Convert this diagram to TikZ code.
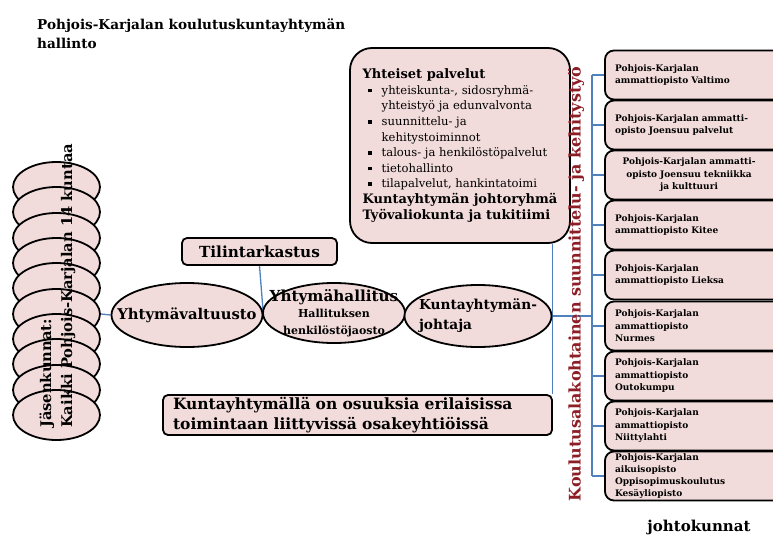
\documentclass[tikz,border=0pt]{standalone}
\usepackage{fontspec}
\setmainfont{DejaVu Serif}
\usetikzlibrary{shapes.geometric, backgrounds}
\definecolor{vaaleanpun}{RGB}{242,220,219}
\definecolor{viiva}{RGB}{79,129,189}
\definecolor{viininpun}{RGB}{142,30,38}
\newcommand{\koko}[2]{\fontsize{#1}{#2}\selectfont}
\newcommand{\pallo}{\hspace*{5pt}\makebox[14pt][l]{\rule[2pt]{3.8pt}{3.8pt}}}
\newcommand{\sisennys}{\hspace*{19pt}}
\newcommand{\keski}[1]{\makebox[148pt][c]{#1}}

\begin{document}
\begin{tikzpicture}[x=1pt, y=-1pt,
  kunta/.style={ellipse, draw, line width=1.8pt, fill=vaaleanpun, minimum width=87pt, minimum height=50pt},
  soikio/.style={ellipse, draw, line width=1.8pt, fill=vaaleanpun, inner xsep=-30pt, inner ysep=-12pt, font=\bfseries},
  laatikko/.style={rectangle, rounded corners=5pt, draw, line width=1.8pt, fill=vaaleanpun, font=\bfseries},
  opisto/.style={laatikko, rounded corners=9pt, text width=175pt, inner xsep=10pt, inner ysep=0pt, minimum height=49pt, align=left, font=\bfseries\koko{9}{12.5}},
  yhteys/.style={draw=viiva, line width=1.3pt}]
  \useasboundingbox (0,0) rectangle (773,543);

  % otsikko
  \node [anchor=north west, inner sep=0pt, align=left, font=\bfseries\koko{13.6}{19}] (otsikko) at (37,19) {Pohjois-Karjalan koulutuskuntayhtymän\\hallinto};

  % jasenkunnat
  \node [kunta] (kunta1) at (56.5,187) {};
  \node [kunta] (kunta2) at (56.5,212) {};
  \node [kunta] (kunta3) at (56.5,238) {};
  \node [kunta] (kunta4) at (56.5,263) {};
  \node [kunta] (kunta5) at (56.5,288) {};
  \node [kunta] (kunta6) at (56.5,314) {};
  \node [kunta] (kunta7) at (56.5,339) {};
  \node [kunta] (kunta8) at (56.5,364) {};
  \node [kunta] (kunta9) at (56.5,390) {};
  \node [kunta] (kunta10) at (56.5,415) {};
  \node [rotate=90, anchor=west, inner sep=0pt, align=left, font=\bfseries\koko{14.7}{21}] (jasenet) at (57.5,428) {J\"asenkunnat:\\Kaikki Pohjois-Karjalan 14 kuntaa};

  % hallinto
  \node [soikio, minimum width=151pt, minimum height=64pt, font=\bfseries\koko{14.8}{17}] (valt) at (187,315) {Yhtym\"avaltuusto};
  \node [soikio, minimum width=142pt, minimum height=60pt, align=center, font=\bfseries\koko{11}{16.5}] (hall) at (334,313) {{\koko{15.2}{16.5}Yhtym\"ahallitus}\\Hallituksen\\henkil\"ost\"ojaosto};
  \node [soikio, minimum width=147pt, minimum height=62pt, align=left, font=\bfseries\koko{13.7}{20}] (joht) at (478,316) {Kuntayhtym\"an-\\johtaja};
  \node [laatikko, minimum width=155pt, minimum height=27pt, font=\bfseries\koko{15.3}{17}] (tili) at (259.5,251.5) {Tilintarkastus};
  \node [laatikko, text width=369pt, inner xsep=10pt, inner ysep=0pt, minimum height=40pt, align=left, font=\bfseries\koko{15.5}{20}] (osak) at (357.5,415) {Kuntayhtym\"all\"a on osuuksia erilaisissa\\toimintaan liittyviss\"a osakeyhti\"oiss\"a};

  % yhteiset palvelut
  \node [laatikko, rounded corners=22pt, minimum width=220pt, minimum height=195pt, align=left, font=\koko{11.6}{15.6}] (yht) at (460,145.5) {{\bfseries\koko{13}{15.6}Yhteiset palvelut}\\
    \pallo yhteiskunta-, sidosryhm\"a-\\
    \sisennys yhteisty\"o ja edunvalvonta\\
    \pallo suunnittelu- ja\\
    \sisennys kehitystoiminnot\\
    \pallo talous- ja henkil\"ost\"opalvelut\\
    \pallo tietohallinto\\
    \pallo tilapalvelut, hankintatoimi\\
    {\bfseries\koko{13}{15.6}Kuntayhtym\"an johtoryhm\"a}\\
    {\bfseries\koko{13}{15.6}Ty\"ovaliokunta ja tukitiimi}};

  \node [rotate=90, text=viininpun, font=\bfseries\koko{16}{17}] (suunn) at (576,284) {Koulutusalakohtainen suunnittelu- ja kehitysty\"o};

  % oppilaitokset
  \node [opisto] (op1) at (702.5,75) {Pohjois-Karjalan\\ammattiopisto Valtimo};
  \node [opisto] (op2) at (702.5,125) {Pohjois-Karjalan ammatti-\\opisto Joensuu palvelut};
  \node [opisto] (op3) at (702.5,175) {\keski{Pohjois-Karjalan ammatti-}\\\keski{opisto Joensuu tekniikka}\\\keski{ja kulttuuri}};
  \node [opisto] (op4) at (702.5,225) {Pohjois-Karjalan\\ammattiopisto Kitee};
  \node [opisto] (op5) at (702.5,275) {Pohjois-Karjalan\\ammattiopisto Lieksa};
  \node [opisto] (op6) at (702.5,326) {Pohjois-Karjalan\\ammattiopisto\\Nurmes};
  \node [opisto] (op7) at (702.5,376) {Pohjois-Karjalan\\ammattiopisto\\Outokumpu};
  \node [opisto] (op8) at (702.5,426) {Pohjois-Karjalan\\ammattiopisto\\Niittylahti};
  \node [opisto, font=\bfseries\koko{9}{12}] (op9) at (702.5,476) {Pohjois-Karjalan\\aikuisopisto\\Oppisopimuskoulutus\\Kes\"ayliopisto};
  \node [font=\bfseries\koko{15}{17}] (johtok) at (699,527) {johtokunnat};

  \coordinate (runko) at (592,0);

  \begin{scope}[on background layer]
    \draw [yhteys] (kunta6.east) -- (valt.west);
    \draw [yhteys] (tili.south) -- (valt.east);
    \draw [yhteys] (joht.east |- yht.south) -- (joht.east |- osak.north);
    \draw [yhteys] (joht.east) -- (joht.east -| runko);
    \draw [yhteys] (op1.west -| runko) -- (op9.west -| runko);
    \draw [yhteys] (op1.west) -- (op1.west -| runko);
    \draw [yhteys] (op2.west) -- (op2.west -| runko);
    \draw [yhteys] (op3.west) -- (op3.west -| runko);
    \draw [yhteys] (op4.west) -- (op4.west -| runko);
    \draw [yhteys] (op5.west) -- (op5.west -| runko);
    \draw [yhteys] (op6.west) -- (op6.west -| runko);
    \draw [yhteys] (op7.west) -- (op7.west -| runko);
    \draw [yhteys] (op8.west) -- (op8.west -| runko);
    \draw [yhteys] (op9.west) -- (op9.west -| runko);
  \end{scope}
\end{tikzpicture}
\end{document}
